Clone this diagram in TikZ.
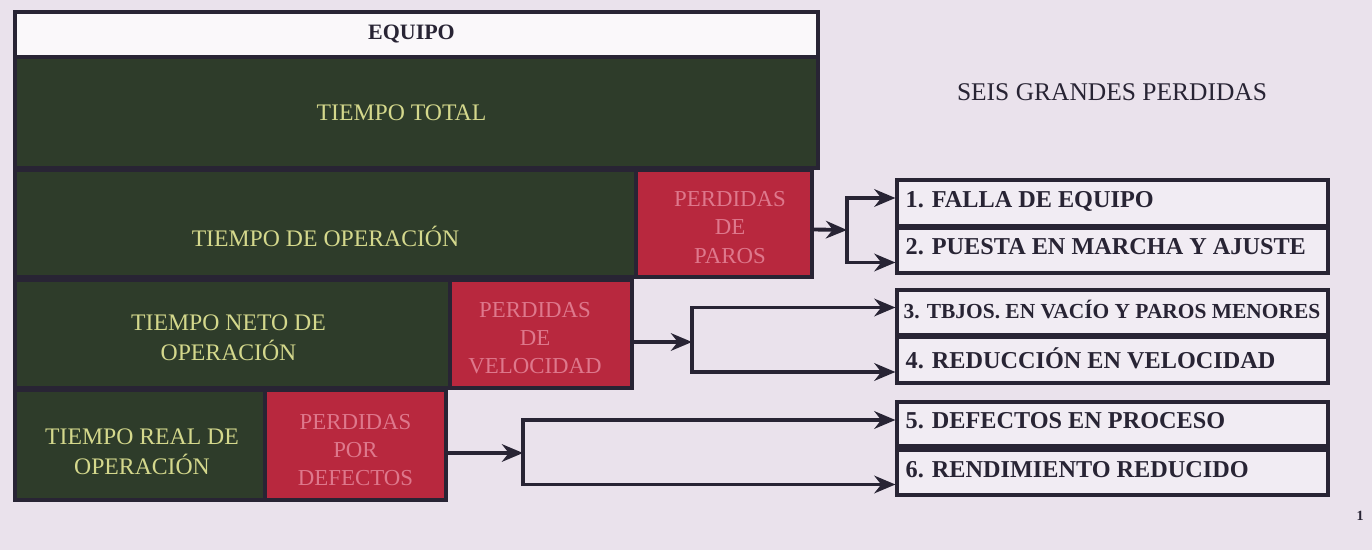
\documentclass[tikz,border=0pt]{standalone}
\usepackage{fontspec}
\setmainfont{Liberation Serif}
\usetikzlibrary{arrows.meta,fit,calc}
\definecolor{bg}{RGB}{234,226,236}
\definecolor{grn}{RGB}{46,60,42}
\definecolor{rd}{RGB}{184,40,62}
\definecolor{ink}{RGB}{40,36,52}
\definecolor{gtxt}{RGB}{212,216,140}
\definecolor{rtxt}{RGB}{222,120,140}
\tikzset{
  frame/.style={draw=ink, line width=1.8pt, inner sep=0pt},
  hdrbox/.style={frame, fill=white!75!bg},
  greenbox/.style={frame, fill=grn},
  redbox/.style={frame, fill=rd},
  lossbox/.style={frame, fill=white!35!bg},
  gt/.style={text=gtxt, align=center, font=\fontsize{13.5}{17}\selectfont},
  rt/.style={text=rtxt, align=center, font=\fontsize{13}{16}\selectfont},
  ltxt/.style={anchor=west, text=ink, font=\bfseries\fontsize{13.8}{15}\selectfont},
  link/.style={draw=ink, line width=2.2pt},
  arr/.style={link, -{Stealth[length=12pt,width=10pt]}}
}
\begin{document}
\begin{tikzpicture}[x=0.02cm,y=-0.02cm]
\path[fill=bg] (0,0) rectangle (1372,550);
\useasboundingbox (0,0) rectangle (1372,550);
% corner coordinates
\coordinate (h1) at (15,12);   \coordinate (h2) at (818,57);
\coordinate (t1) at (15,57);   \coordinate (t2) at (818,168);
\coordinate (o1) at (15,170);  \coordinate (o2) at (636,277);
\coordinate (p1a) at (636,170);\coordinate (p1b) at (812,277);
\coordinate (n1) at (15,280);  \coordinate (n2) at (450,388);
\coordinate (p2a) at (450,280);\coordinate (p2b) at (632,388);
\coordinate (r1a) at (15,390); \coordinate (r1b) at (265,500);
\coordinate (p3a) at (265,390);\coordinate (p3b) at (446,500);
% left blocks
\node[hdrbox, fit=(h1)(h2)] (equipo) {};
\node[text=ink, font=\bfseries\fontsize{12.5}{14}\selectfont] (equipotxt) at ($(equipo.center)+(-5,0)$) {EQUIPO};
\node[greenbox, fit=(t1)(t2)] (total) {};
\node[gt] (totaltxt) at ($(total.center)+(-15,0)$) {TIEMPO TOTAL};
\node[greenbox, fit=(o1)(o2)] (oper) {};
\node[gt] (opertxt) at ($(oper.center)+(0,13)$) {TIEMPO DE OPERACIÓN};
\node[redbox, fit=(p1a)(p1b)] (paros) {};
\node[rt] (parostxt) at ($(paros.center)+(6,4)$) {PERDIDAS\\DE\\PAROS};
\node[greenbox, fit=(n1)(n2)] (neto) {};
\node[gt] (netotxt) at ($(neto.center)+(-4,4)$) {TIEMPO NETO DE\\OPERACIÓN};
\node[redbox, fit=(p2a)(p2b)] (veloc) {};
\node[rt] (veloctxt) at ($(veloc.center)+(-6,4)$) {PERDIDAS\\DE\\VELOCIDAD};
\node[greenbox, fit=(r1a)(r1b)] (real) {};
\node[gt] (realtxt) at ($(real.center)+(2,7)$) {TIEMPO REAL DE\\OPERACIÓN};
\node[redbox, fit=(p3a)(p3b)] (defec) {};
\node[rt] (defectxt) at ($(defec.center)+(0,5)$) {PERDIDAS\\POR\\DEFECTOS};
% title
\node[text=ink, font=\fontsize{14.5}{16}\selectfont] (title) at (1112,92) {SEIS GRANDES PERDIDAS};
% loss boxes
\coordinate (a1) at (897,180); \coordinate (b1) at (1328,226);
\coordinate (a2) at (897,228); \coordinate (b2) at (1328,273);
\coordinate (a3) at (897,290); \coordinate (b3) at (1328,335);
\coordinate (a4) at (897,337); \coordinate (b4) at (1328,383);
\coordinate (a5) at (897,402); \coordinate (b5) at (1328,446);
\coordinate (a6) at (897,450); \coordinate (b6) at (1328,495);
\node[lossbox, fit=(a1)(b1)] (l1) {};
\node[lossbox, fit=(a2)(b2)] (l2) {};
\node[lossbox, fit=(a3)(b3)] (l3) {};
\node[lossbox, fit=(a4)(b4)] (l4) {};
\node[lossbox, fit=(a5)(b5)] (l5) {};
\node[lossbox, fit=(a6)(b6)] (l6) {};
\node[ltxt] (l1t) at ($(l1.west)+(4,-2)$) {1. FALLA DE EQUIPO};
\node[ltxt] (l2t) at ($(l2.west)+(4,-4)$) {2. PUESTA EN MARCHA Y AJUSTE};
\node[ltxt, font=\bfseries\fontsize{12.2}{15}\selectfont] (l3t) at ($(l3.west)+(2,-3)$) {3. TBJOS. EN VACÍO Y PAROS MENORES};
\node[ltxt] (l4t) at ($(l4.west)+(4,-2)$) {4. REDUCCIÓN EN VELOCIDAD};
\node[ltxt] (l5t) at ($(l5.west)+(4,-3)$) {5. DEFECTOS EN PROCESO};
\node[ltxt] (l6t) at ($(l6.west)+(4,-3)$) {6. RENDIMIENTO REDUCIDO};
% connectors
\coordinate (j1) at (847,230);
\coordinate (j2) at (692,342);
\coordinate (j3) at (523,453);
\draw[arr] ([yshift=-6*0.02cm]paros.east) -- (j1);
\draw[arr] (j1) |- ([yshift=5*0.02cm]l1.west);
\draw[arr] (j1) |- ([yshift=-12*0.02cm]l2.west);
\draw[arr] ([yshift=-8*0.02cm]veloc.east) -- (j2);
\draw[arr] (j2) |- ([yshift=5*0.02cm]l3.west);
\draw[arr] (j2) |- ([yshift=-12*0.02cm]l4.west);
\draw[arr] ([yshift=-8*0.02cm]defec.east) -- (j3);
\draw[arr] (j3) |- ([yshift=4*0.02cm]l5.west);
\draw[arr] (j3) |- ([yshift=-12*0.02cm]l6.west);
% page number
\node[text=ink, font=\bfseries\fontsize{8}{9}\selectfont] (pg) at (1360,516) {1};
\end{tikzpicture}
\end{document}
